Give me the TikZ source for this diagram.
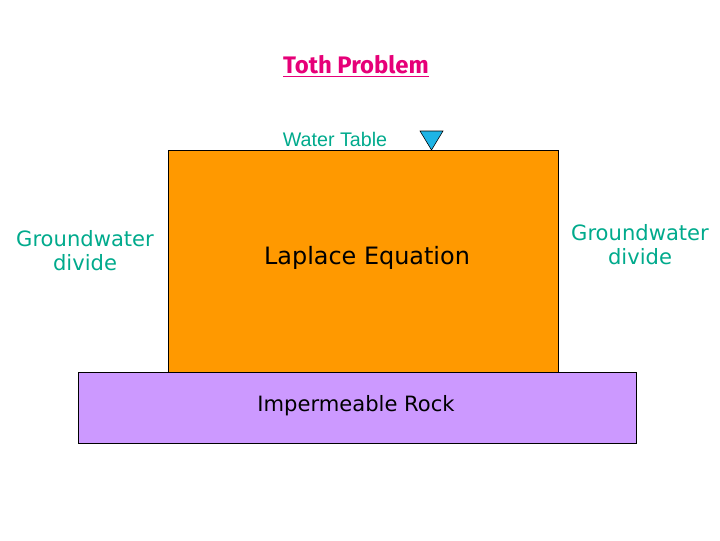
\documentclass[tikz,border=0pt]{standalone}
\usepackage{fontspec}
\setmainfont{DejaVu Sans}
\newfontfamily\arialf{Liberation Sans}
\newfontfamily\titlef{Fira Sans}
\definecolor{orng}{RGB}{255,153,0}
\definecolor{purp}{RGB}{204,153,255}
\definecolor{teal2}{RGB}{0,170,140}
\definecolor{mag}{RGB}{230,0,120}
\definecolor{tri}{RGB}{30,180,230}
\tikzset{lbl/.style={inner sep=0pt,align=center}}
\begin{document}
\begin{tikzpicture}[x=0.025cm,y=-0.025cm]
\useasboundingbox (0,0) rectangle (720,540);
\node[draw=black,thick,fill=orng,minimum width=9.75cm,minimum height=5.55cm,anchor=north west,inner sep=0pt] (box) at (168,150) {};
\node[draw=black,thick,fill=purp,minimum width=13.95cm,minimum height=1.775cm,anchor=north west,inner sep=0pt] (rock) at (78,372) {};
\node[lbl,text=mag,font=\titlef\bfseries\fontsize{17}{20}\selectfont] (title) at (356,66) {\underline{Toth Problem}};
\node[lbl,text=teal2,font=\arialf\fontsize{14}{16}\selectfont] (wt) at (335,139) {Water Table};
\draw[black,fill=tri] (420,131) -- (443,131) -- (431.5,150) -- cycle;
\node[lbl,font=\fontsize{17}{20}\selectfont] (lap) at (367,258) {Laplace Equation};
\node[lbl,font=\fontsize{15}{18}\selectfont] (imp) at (356,406) {Impermeable Rock};
\node[lbl,text=teal2,font=\fontsize{15}{17}\selectfont] (gl) at (85,251) {Groundwater\\divide};
\node[lbl,text=teal2,font=\fontsize{15}{17}\selectfont] (gr) at (640,245) {Groundwater\\divide};
\end{tikzpicture}
\end{document}
